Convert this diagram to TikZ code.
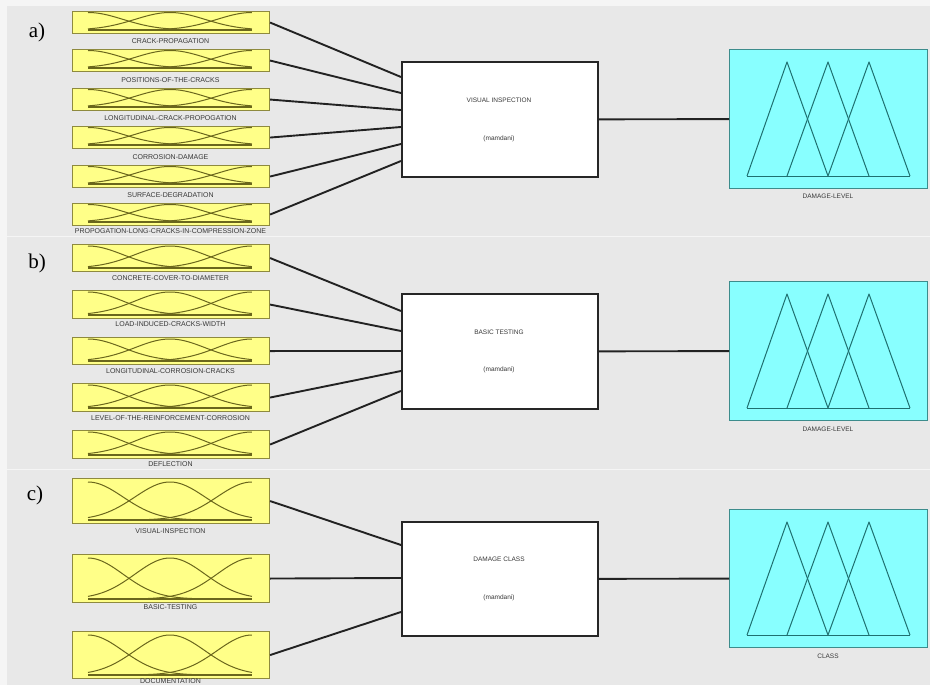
\documentclass[tikz,border=0pt]{standalone}
\usepackage{fontspec}
\setmainfont{Liberation Serif}
\setsansfont{Liberation Sans}
\usetikzlibrary{calc}
\definecolor{bgray}{HTML}{E8E8E8}
\definecolor{edgewhite}{HTML}{F5F5F5}
\definecolor{mfyellow}{HTML}{FFFF88}
\definecolor{mfborder}{HTML}{8E8A3E}
\definecolor{mfcurve}{HTML}{6A661C}
\definecolor{outcyan}{HTML}{88FFFF}
\definecolor{outborder}{HTML}{3C8C8C}
\definecolor{tri}{HTML}{1F7070}
\definecolor{lbltext}{HTML}{383838}
\definecolor{wire}{HTML}{222222}
\newcommand\mfplot[2]{%
  \draw[mfline] plot[domain=0:2, samples=60] ({88+82*\x}, {#2-(#2-#1)*exp(-2.745*\x*\x)});
  \draw[mfline] plot[domain=0:2, samples=60] ({88+82*\x}, {#2-(#2-#1)*exp(-2.745*(\x-1)*(\x-1))});
  \draw[mfline] plot[domain=0:2, samples=60] ({88+82*\x}, {#2-(#2-#1)*exp(-2.745*(\x-2)*(\x-2))});
  \draw[mfbase] (88,#2) -- (252,#2);
}
\newcommand\triset[2]{% apex y, base y
  \draw[triline] (747,#2) -- (787,#1) -- (828,#2) -- (869,#1) -- (910,#2);
  \draw[triline] (787,#2) -- (828,#1) -- (869,#2);
  \draw[triline] (747,#2) -- (910,#2);
}
\tikzset{
  inbox/.style={draw=mfborder, fill=mfyellow, line width=1.1pt, anchor=north west,
    minimum width=197pt, inner sep=0pt},
  mfline/.style={draw=mfcurve, line width=1pt},
  mfbase/.style={draw=mfcurve, line width=1.5pt},
  lbl/.style={font=\sffamily\fontsize{7}{8}\selectfont, text=lbltext, inner sep=0pt},
  sysbox/.style={draw=black!85, fill=white, line width=1.7pt, anchor=north west,
    minimum width=196pt, inner sep=0pt},
  systext/.style={font=\sffamily\fontsize{6.5}{7.5}\selectfont, text=lbltext, inner sep=0pt},
  outbox/.style={draw=outborder, fill=outcyan, line width=1.2pt, anchor=north west,
    minimum width=198pt, inner sep=0pt},
  triline/.style={draw=tri, line width=1pt, line join=round},
  conn/.style={draw=wire, line width=1.9pt},
  panellbl/.style={font=\fontsize{21}{23}\selectfont, inner sep=0pt},
}
\begin{document}
\begin{tikzpicture}[x=1pt, y=-1pt]
\useasboundingbox (0,0) rectangle (930,685);
\fill[edgewhite] (0,0) rectangle (930,685);
\fill[bgray] (7,6) rectangle (930,236);
\fill[bgray] (7,237) rectangle (930,469);
\fill[bgray] (7,470) rectangle (930,685);

% ---------- panel a ----------
\node[panellbl] (la) at (37,32) {a)};
\node[inbox, minimum height=22pt] (a1) at (72,11) {};  \mfplot{12.5}{30}
\node[inbox, minimum height=22pt] (a2) at (72,49) {};  \mfplot{50.5}{68}
\node[inbox, minimum height=22pt] (a3) at (72,88) {};  \mfplot{89.5}{107}
\node[inbox, minimum height=22pt] (a4) at (72,126) {}; \mfplot{127.5}{145}
\node[inbox, minimum height=22pt] (a5) at (72,165) {}; \mfplot{166.5}{184}
\node[inbox, minimum height=22pt] (a6) at (72,203) {}; \mfplot{204.5}{222}
\node[lbl] (a1l) at (170.5,41)  {CRACK-PROPAGATION};
\node[lbl] (a2l) at (170.5,80)  {POSITIONS-OF-THE-CRACKS};
\node[lbl] (a3l) at (170.5,118) {LONGITUDINAL-CRACK-PROPOGATION};
\node[lbl] (a4l) at (170.5,157) {CORROSION-DAMAGE};
\node[lbl] (a5l) at (170.5,195) {SURFACE-DEGRADATION};
\node[lbl] (a6l) at (170.5,231) {PROPOGATION-LONG-CRACKS-IN-COMPRESSION-ZONE};

\node[sysbox, minimum height=115pt] (ca) at (401,61) {};
\node[systext] (cat) at (499,100) {VISUAL INSPECTION};
\node[systext] (cam) at (499,139) {(mamdani)};
\draw[conn] (a1.east) -- ($(ca.north west)+(0,16)$);
\draw[conn] (a2.east) -- ($(ca.north west)+(0,32)$);
\draw[conn] (a3.east) -- ($(ca.north west)+(0,49)$);
\draw[conn] (a4.east) -- ($(ca.north west)+(0,66)$);
\draw[conn] (a5.east) -- ($(ca.north west)+(0,83)$);
\draw[conn] (a6.east) -- ($(ca.north west)+(0,100)$);

\node[outbox, minimum height=139pt] (oa) at (729,49) {};
\triset{62}{176}
\node[lbl, font=\sffamily\fontsize{6.5}{7.5}\selectfont] (oal) at (828,196) {DAMAGE-LEVEL};
\draw[conn] (ca.east) -- (oa.west);

% ---------- panel b ----------
\node[panellbl] (lb) at (37,263) {b)};
\node[inbox, minimum height=27pt] (b1) at (72,244) {}; \mfplot{246}{268}
\node[inbox, minimum height=28pt] (b2) at (72,290) {}; \mfplot{292}{315}
\node[inbox, minimum height=27pt] (b3) at (72,337) {}; \mfplot{339}{361}
\node[inbox, minimum height=28pt] (b4) at (72,383) {}; \mfplot{385}{408}
\node[inbox, minimum height=28pt] (b5) at (72,430) {}; \mfplot{432}{455}
\node[lbl] (b1l) at (170.5,278) {CONCRETE-COVER-TO-DIAMETER};
\node[lbl] (b2l) at (170.5,324) {LOAD-INDUCED-CRACKS-WIDTH};
\node[lbl] (b3l) at (170.5,371) {LONGITUDINAL-CORROSION-CRACKS};
\node[lbl] (b4l) at (170.5,418) {LEVEL-OF-THE-REINFORCEMENT-CORROSION};
\node[lbl] (b5l) at (170.5,464) {DEFLECTION};

\node[sysbox, minimum height=115pt] (cb) at (401,293) {};
\node[systext] (cbt) at (499,332) {BASIC TESTING};
\node[systext] (cbm) at (499,370) {(mamdani)};
\draw[conn] (b1.east) -- ($(cb.north west)+(0,18)$);
\draw[conn] (b2.east) -- ($(cb.north west)+(0,38)$);
\draw[conn] (b3.east) -- ($(cb.north west)+(0,58)$);
\draw[conn] (b4.east) -- ($(cb.north west)+(0,78)$);
\draw[conn] (b5.east) -- ($(cb.north west)+(0,98)$);

\node[outbox, minimum height=139pt] (ob) at (729,281) {};
\triset{294}{408}
\node[lbl, font=\sffamily\fontsize{6.5}{7.5}\selectfont] (obl) at (828,429) {DAMAGE-LEVEL};
\draw[conn] (cb.east) -- (ob.west);

% ---------- panel c ----------
\node[panellbl] (lc) at (35,495) {c)};
\node[inbox, minimum height=45pt] (c1) at (72,478) {}; \mfplot{482}{520}
\node[inbox, minimum height=48pt] (c2) at (72,554) {}; \mfplot{558}{599}
\node[inbox, minimum height=47pt] (c3) at (72,631) {}; \mfplot{635}{675}
\node[lbl] (c1l) at (170.5,531) {VISUAL-INSPECTION};
\node[lbl] (c2l) at (170.5,607) {BASIC-TESTING};
\node[lbl] (c3l) at (170.5,681.5) {DOCUMENTATION};

\node[sysbox, minimum height=114pt] (cc) at (401,521) {};
\node[systext] (cct) at (499,559) {DAMAGE CLASS};
\node[systext] (ccm) at (499,598) {(mamdani)};
\draw[conn] (c1.east) -- ($(cc.north west)+(0,24)$);
\draw[conn] (c2.east) -- ($(cc.north west)+(0,57)$);
\draw[conn] (c3.east) -- ($(cc.north west)+(0,91)$);

\node[outbox, minimum height=138pt] (oc) at (729,509) {};
\triset{522}{635}
\node[lbl, font=\sffamily\fontsize{6.5}{7.5}\selectfont] (ocl) at (828,656) {CLASS};
\draw[conn] (cc.east) -- (oc.west);
\end{tikzpicture}
\end{document}
